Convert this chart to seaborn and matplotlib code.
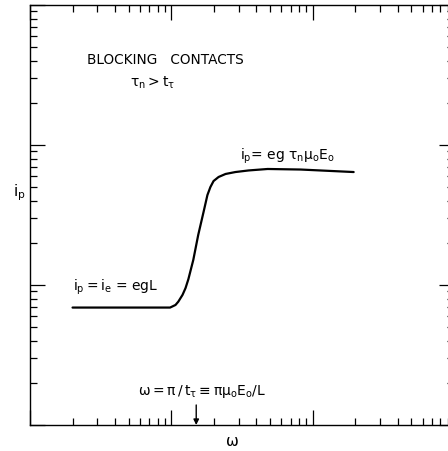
import matplotlib
matplotlib.use('Agg')
import matplotlib.pyplot as plt
import matplotlib.ticker as ticker
import pandas as pd
import seaborn as sns

# curve (log-log axes, arbitrary units)
omega = [2.0, 9.8, 10.7, 11.2, 12.0, 12.6, 13.2, 14.3, 15.5, 16.9, 18.0,
         18.9, 19.9, 21.6, 24.2, 28.4, 35.2, 48.0, 82.2, 195]
i_p = [6.9, 6.9, 7.2, 7.6, 8.5, 9.5, 11.0, 15.1, 22.8, 33.2, 43.9,
       50.1, 55.3, 59.1, 62.1, 64.1, 65.8, 67.4, 66.8, 64.1]
omega_c = 15.0   # where the arrow points

df = pd.DataFrame({'omega': omega, 'ip': i_p})

sns.set_style('ticks')
plt.rcParams['font.family'] = ['DejaVu Sans']
plt.rcParams['mathtext.default'] = 'regular'
plt.rcParams['text.color'] = 'black'

fig = plt.figure(figsize=(4.48, 4.51), dpi=100)
ax = fig.add_axes([30 / 448, 26 / 451, 424 / 448, 420 / 451])

sns.lineplot(data=df, x='omega', y='ip', sort=False, estimator=None,
             color='black', linewidth=1.6, ax=ax)

ax.set_xscale('log')
ax.set_yscale('log')
ax.set_xlim(1, 1000)
ax.set_ylim(1, 1000)

# ticks all inward, no numbers
ax.tick_params(which='both', direction='in', top=True, right=True,
               labelbottom=False, labelleft=False, color='black')
ax.tick_params(which='major', length=11, width=0.9)
ax.tick_params(which='minor', length=5, width=0.9)
for axis in (ax.xaxis, ax.yaxis):
    axis.set_minor_locator(ticker.LogLocator(subs=range(2, 10)))
    axis.set_major_formatter(ticker.NullFormatter())
    axis.set_minor_formatter(ticker.NullFormatter())
for s in ax.spines.values():
    s.set_linewidth(1.0)
    s.set_color('black')
ax.set_xlabel('')
ax.set_ylabel('')

ax.text(0.134, 0.869, 'BLOCKING   CONTACTS', transform=ax.transAxes,
        fontsize=9.8, va='center', ha='left')
ax.text(0.236, 0.815, r'$\tau_n > t_\tau$', transform=ax.transAxes,
        fontsize=10, va='center', ha='left')
ax.text(0.495, 0.640, r'$i_p$= eg $\tau_n\mu_o E_o$', transform=ax.transAxes,
        fontsize=10, va='center', ha='left')
ax.text(0.101, 0.328, r'$i_p = i_e$ = egL', transform=ax.transAxes,
        fontsize=10, va='center', ha='left')
ax.text(0.255, 0.079, r'$\omega = \pi\,/\,t_\tau \equiv \pi\mu_o E_o/L$',
        transform=ax.transAxes, fontsize=10, va='center', ha='left')

ax.annotate('', xy=(omega_c, 1.0), xytext=(omega_c, 1.39),
            arrowprops=dict(arrowstyle='-|>', color='black', lw=1.0,
                            mutation_scale=8, shrinkA=0, shrinkB=0))

fig.text(19 / 448, 1 - 193 / 451, r'$i_p$', fontsize=11, ha='center', va='center')
fig.text(232 / 448, 1 - 442 / 451, r'$\omega$', fontsize=11, ha='center', va='center')

fig.savefig('out.png', dpi=100)
